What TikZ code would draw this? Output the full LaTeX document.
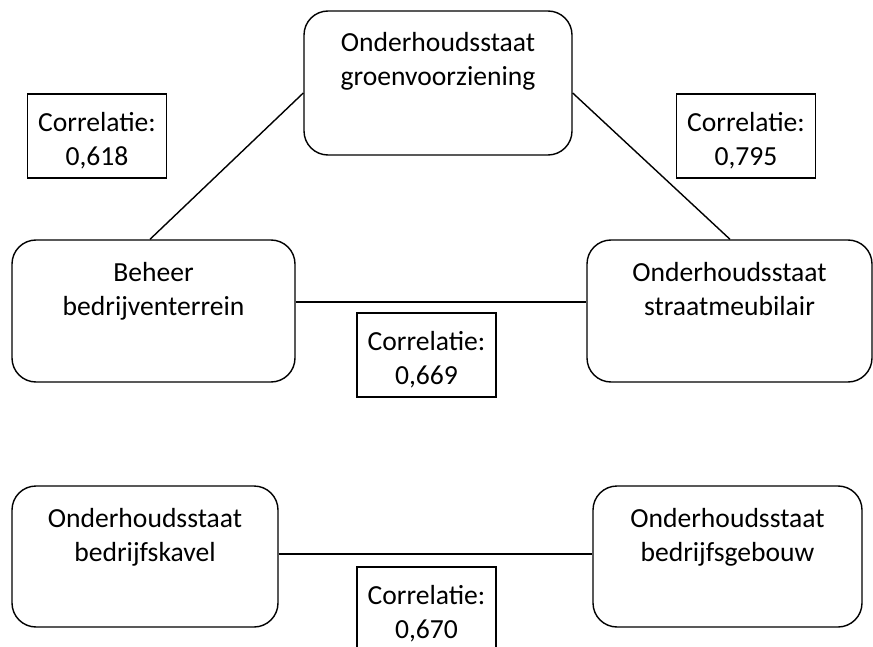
\documentclass[tikz,border=0pt]{standalone}
\usepackage{fontspec}
\setmainfont{Carlito}
\begin{document}
\begin{tikzpicture}[x=1pt, y=-1pt, line width=1.4pt,
  rbox/.style={draw, rounded corners=24pt, inner sep=0pt},
  cbox/.style={draw, inner sep=0pt, minimum width=139pt, minimum height=84pt},
  lbl/.style={font=\fontsize{27.6}{33.7}\selectfont, align=center, inner sep=0pt, anchor=north},
]
\useasboundingbox (0,0) rectangle (873,647);

% top triangle of factors
\node[rbox, minimum width=268pt, minimum height=144pt] (groen)  at (438,83) {};
\node[rbox, minimum width=283pt, minimum height=142pt] (beheer) at (153.5,311) {};
\node[rbox, minimum width=285pt, minimum height=142pt] (straat) at (729.5,311) {};

\node[lbl] (groen-t)  at (438,32)    {Onderhoudsstaat\\groenvoorziening};
\node[lbl] (beheer-t) at (153.5,262) {Beheer\\bedrijventerrein};
\node[lbl] (straat-t) at (729.5,262) {Onderhoudsstaat\\straatmeubilair};

% connectors of the triangle
\draw ([yshift=-10pt]groen.west) -- ([xshift=-3.5pt]beheer.north);
\draw ([yshift=-10pt]groen.east) -- ([xshift=0.5pt]straat.north);
\draw ([yshift=9pt]beheer.east) -- ([yshift=9pt]straat.west);

% correlation labels
\node[cbox] (c618) at (97,136) {};
\node[cbox] (c795) at (746,136) {};
\node[cbox] (c669) at (426.5,355) {};
\node[lbl] (c618-t) at (97,112)    {Correlatie:\\0,618};
\node[lbl] (c795-t) at (746,112)   {Correlatie:\\0,795};
\node[lbl] (c669-t) at (426.5,331) {Correlatie:\\0,669};

% lower pair of factors
\node[rbox, minimum width=266pt, minimum height=141pt] (kavel)  at (145,556.5) {};
\node[rbox, minimum width=269pt, minimum height=141pt] (gebouw) at (727.5,556.5) {};
\node[lbl] (kavel-t)  at (145,508)   {Onderhoudsstaat\\bedrijfskavel};
\node[lbl] (gebouw-t) at (727.5,508) {Onderhoudsstaat\\bedrijfsgebouw};

\draw ([yshift=2.5pt]kavel.east) -- ([yshift=2.5pt]gebouw.west);

\node[cbox] (c670) at (426.5,609) {};
\node[lbl] (c670-t) at (426.5,585) {Correlatie:\\0,670};
\end{tikzpicture}
\end{document}
